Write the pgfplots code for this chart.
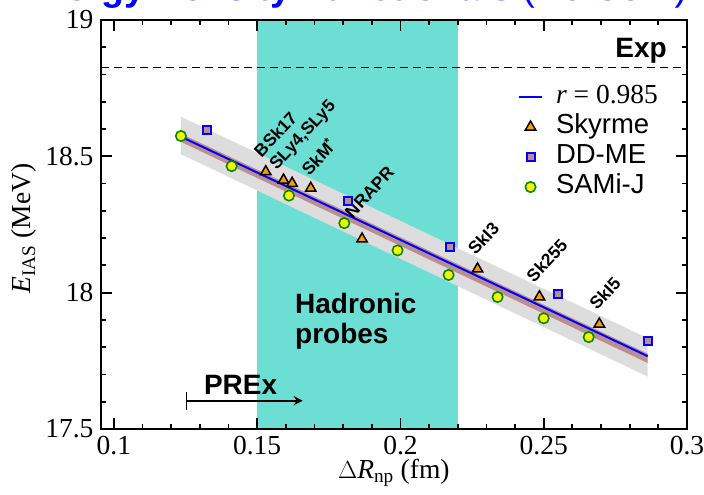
\documentclass[border=0pt]{standalone}
\usepackage{fontspec}
\setmainfont{Liberation Serif}
\newfontfamily\arial{Liberation Sans}
\usepackage{pgfplots}
\pgfplotsset{compat=1.18}
\usetikzlibrary{arrows.meta}
\definecolor{hatch}{RGB}{108,222,212}
\definecolor{tri}{RGB}{255,153,0}
\definecolor{rosy}{RGB}{188,143,143}
\definecolor{grn}{RGB}{0,140,0}
\definecolor{bandgray}{RGB}{221,221,221}
\begin{document}
\begin{tikzpicture}
\useasboundingbox (-100.7pt,-66pt) rectangle (603.3pt,429pt);
\begin{axis}[
  at={(0,0)}, anchor=south west,
  scale only axis, width=586.3pt, height=409pt,
  xmin=0.0954, xmax=0.3, ymin=17.5, ymax=19,
  xtick={0.1,0.15,0.2,0.25,0.3}, ytick={17.5,18,18.5,19},
  minor x tick num=4, minor y tick num=4,
  scaled ticks=false,
  tick align=inside, major tick length=11pt, minor tick length=5pt,
  axis line style={line width=2pt},
  every tick/.style={line width=1.8pt, black},
  axis on top,
  /pgf/number format/.cd, fixed, precision=2, assume math mode=true, /pgfplots/.cd,
  ticklabel style={font=\fontsize{27.5}{30}\selectfont},
  xticklabel style={inner sep=0pt, yshift=-7pt},
  yticklabel style={inner sep=0pt, xshift=-7pt},
  xlabel={$\Delta$\textit{R}\textsubscript{np} (fm)},
  ylabel={\textit{E}\textsubscript{IAS} (MeV)},
  label style={font=\fontsize{27.5}{30}\selectfont},
  xlabel style={at={(axis description cs:0.5,-0.122)}, anchor=base},
  ylabel style={at={(axis description cs:-0.119,0.49)}, anchor=base, rotate=0},
  title={\bfseries Energy Density Functionals \mdseries(No Corr.)},
  title style={at={(axis description cs:-0.141,1.032)}, anchor=base west, inner sep=0pt, text=blue, font=\fontsize{37.5}{40}\selectfont\arial},
  legend image code/.code={\draw[mark repeat=2,mark phase=2,#1] plot coordinates {(0pt,0pt)(11.5pt,0pt)(23pt,0pt)};},
  legend style={at={(axis description cs:0.7118,0.841)}, anchor=north west,
    draw=none, fill=none, inner sep=0pt, outer sep=0pt, row sep=6pt,
    font=\fontsize{27.5}{30}\selectfont\arial,
    nodes={inner sep=0pt, text height=18pt, text depth=6pt},
    /tikz/every odd column/.append style={column sep=13pt}},
  legend cell align=left,
]
% hadronic probes region
\addplot[fill=hatch, draw=none, forget plot] coordinates {(0.15,17.5) (0.22,17.5) (0.22,19) (0.15,19)} -- cycle;
% gray band
\addplot[fill=bandgray, draw=none, forget plot] coordinates {(0.1234,18.645) (0.2863,17.833) (0.2863,17.692) (0.1234,18.508)} -- cycle;
% brown band
\addplot[fill=rosy, draw=none, forget plot] coordinates {(0.1234,18.583) (0.2863,17.776) (0.2863,17.742) (0.1234,18.553)} -- cycle;
% exp line
\addplot[black, line width=1.5pt, dash pattern=on 8pt off 5pt, forget plot] coordinates {(0.0954,18.826) (0.3,18.826)};
% PREx arrow
\addplot[black, line width=1.8pt, {Bar[width=18pt,line width=1.8pt]}-{Stealth[length=9pt,width=9pt]}, forget plot] coordinates {(0.125,17.604) (0.1659,17.604)};
% fit line
\addplot[blue, line width=2pt] coordinates {(0.1234,18.572) (0.2863,17.767)};
\addlegendentry{{\rmfamily\textit{r} = 0.985}}
% Skyrme
\addplot[only marks, mark=triangle*, mark size=6pt, mark options={fill=tri, draw=black, line width=1.5pt}] coordinates {
(0.1530,18.4435) (0.1592,18.413) (0.1622,18.401) (0.1687,18.383) (0.1866,18.197)
(0.2269,18.087) (0.2485,17.985) (0.2694,17.885)};
\addlegendentry{Skyrme}
% DD-ME
\addplot[only marks, mark=square*, mark size=4pt, mark options={fill=rosy, draw=blue, line width=2pt}] coordinates {
(0.1326,18.596) (0.1816,18.336) (0.2173,18.167) (0.2549,17.996) (0.2863,17.824)};
\addlegendentry{DD-ME}
% SAMi-J
\addplot[only marks, mark=*, mark size=5.2pt, mark options={fill=yellow, draw=grn, line width=1.6pt}] coordinates {
(0.1234,18.5745) (0.1411,18.464) (0.1611,18.356) (0.1804,18.255) (0.1990,18.155)
(0.2168,18.065) (0.2339,17.984) (0.2500,17.906) (0.2657,17.837)};
\addlegendentry{SAMi-J}
% labels
\begin{scope}[every node/.style={font=\fontsize{17.5}{20}\selectfont\arial\bfseries, anchor=base west, rotate=47, inner sep=0pt}]
\node at (axis cs:0.15155,18.4927) {BSk17};
\node at (axis cs:0.1568,18.447) {SLy4,SLy5};
\node at (axis cs:0.1682,18.425) {SkM\textsuperscript{*}};
\node at (axis cs:0.1833,18.269) {NRAPR};
\node at (axis cs:0.2262,18.134) {SkI3};
\node at (axis cs:0.2466,18.034) {Sk255};
\node at (axis cs:0.2686,17.933) {SkI5};
\end{scope}
\begin{scope}[every node/.style={font=\fontsize{28}{30}\selectfont\arial\bfseries, inner sep=0pt}]
\node[anchor=base east] at (axis cs:0.2930,18.864) {Exp};
\node[anchor=base west] at (axis cs:0.1314,17.625) {PREx};
\node[anchor=base west] at (axis cs:0.1632,17.924) {Hadronic};
\node[anchor=base west] at (axis cs:0.1632,17.814) {probes};
\end{scope}
\end{axis}
\end{tikzpicture}
\end{document}
